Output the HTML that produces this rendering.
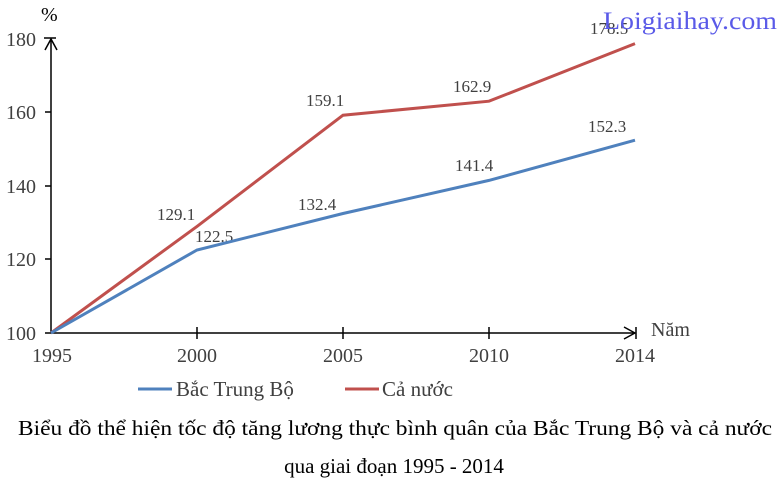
<!DOCTYPE html>
<html><head><meta charset="utf-8"><style>
body{margin:0;background:#fff;}
svg{display:block;font-family:"Liberation Serif","DejaVu Serif",serif;}
</style></head><body>
<svg width="779" height="485" viewBox="0 0 779 485" xmlns="http://www.w3.org/2000/svg">
<g stroke="#000" stroke-width="1.5" fill="none">
<line x1="51" y1="333" x2="51" y2="39"/>
<polyline points="45,50 51,39 57,50"/>
<line x1="44" y1="38" x2="56" y2="38"/>
<line x1="51" y1="333" x2="635" y2="333"/>
<polyline points="624,327 635,333 624,339"/>
<line x1="636" y1="327" x2="636" y2="339"/>
<line x1="45" y1="112" x2="51" y2="112"/>
<line x1="45" y1="186" x2="51" y2="186"/>
<line x1="45" y1="259" x2="51" y2="259"/>
<line x1="45" y1="333" x2="51" y2="333"/>
<line x1="197" y1="327" x2="197" y2="339"/>
<line x1="343" y1="327" x2="343" y2="339"/>
<line x1="489" y1="327" x2="489" y2="339"/>
</g>
<g fill="#404040" font-size="20">
<text x="41" y="21" fill="#000" font-size="20">%</text>
<g text-anchor="end">
<text x="36" y="46">180</text>
<text x="36" y="119">160</text>
<text x="36" y="193">140</text>
<text x="36" y="266">120</text>
<text x="36" y="340">100</text>
</g>
<g text-anchor="middle">
<text x="52" y="362">1995</text>
<text x="197" y="362">2000</text>
<text x="343" y="362">2005</text>
<text x="489" y="362">2010</text>
<text x="635" y="362">2014</text>
</g>
<text x="651" y="336" font-size="20">Năm</text>
<g font-size="17">
<text x="157" y="220">129.1</text>
<text x="195" y="242">122.5</text>
<text x="298" y="210">132.4</text>
<text x="306" y="106">159.1</text>
<text x="453" y="92">162.9</text>
<text x="455" y="171">141.4</text>
<text x="590" y="34">178.5</text>
<text x="588" y="132">152.3</text>
</g>
</g>
<text x="603" y="29" font-size="25" fill="#5a5ae8" textLength="174" lengthAdjust="spacingAndGlyphs">Loigiaihay.com</text>
<polyline fill="none" stroke="#c0504d" stroke-width="3" points="51,333 197,226.4 343,115.2 489,101.2 635,43.6"/>
<polyline fill="none" stroke="#4f81bd" stroke-width="3" points="51,333 197,250 343,213.5 489,180.4 635,140.2"/>
<line x1="138" y1="389" x2="172" y2="389" stroke="#4f81bd" stroke-width="3"/>
<text x="176" y="396" font-size="21" fill="#404040">Bắc Trung Bộ</text>
<line x1="345" y1="389" x2="379" y2="389" stroke="#c0504d" stroke-width="3"/>
<text x="382" y="396" font-size="21" fill="#404040">Cả nước</text>
<g font-size="21" fill="#000" text-anchor="middle">
<text x="395" y="435" textLength="754" lengthAdjust="spacingAndGlyphs">Biểu đồ thể hiện tốc độ tăng lương thực bình quân của Bắc Trung Bộ và cả nước</text>
<text x="394" y="473">qua giai đoạn 1995 - 2014</text>
</g>
</svg>
</body></html>
